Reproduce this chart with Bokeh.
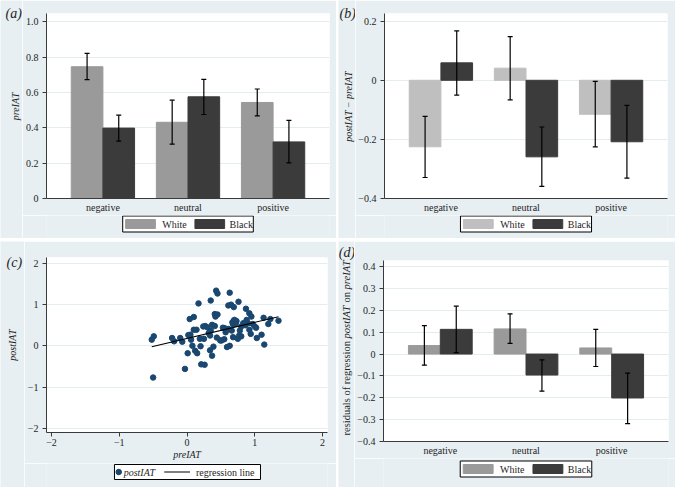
import math
from bokeh.plotting import figure
from bokeh.layouts import column, row
from bokeh.models import ColumnDataSource, FixedTicker, Range1d, Whisker, TeeHead, Label
from bokeh.embed import file_html
from bokeh.resources import INLINE

# ---------------- data ----------------
categories = ["negative", "neutral", "positive"]
cat_pos = [1, 2, 3]
series_names = ["White", "Black"]

a_white = [0.745, 0.431, 0.543]
a_white_lo = [0.672, 0.307, 0.467]
a_white_hi = [0.821, 0.556, 0.619]
a_black = [0.398, 0.575, 0.320]
a_black_lo = [0.324, 0.475, 0.201]
a_black_hi = [0.471, 0.674, 0.442]

b_white = [-0.225, 0.041, -0.115]
b_white_lo = [-0.329, -0.066, -0.225]
b_white_hi = [-0.122, 0.148, -0.004]
b_black = [0.059, -0.259, -0.208]
b_black_lo = [-0.050, -0.359, -0.331]
b_black_hi = [0.167, -0.158, -0.085]

d_white = [0.039, 0.115, 0.028]
d_white_lo = [-0.051, 0.049, -0.057]
d_white_hi = [0.130, 0.184, 0.113]
d_black = [0.113, -0.096, -0.201]
d_black_lo = [0.007, -0.170, -0.318]
d_black_hi = [0.219, -0.027, -0.087]

pre_iat = [-0.52, -0.49, -0.50, -0.22, -0.19, -0.10, -0.07, -0.03, 0.02, 0.04,
           0.01, 0.06, 0.08, 0.10, 0.10, 0.14, 0.12, 0.15, 0.17, 0.19,
           0.21, 0.26, 0.20, 0.24, 0.27, 0.25, 0.32, 0.34, 0.34, 0.35,
           0.35, 0.37, 0.39, 0.37, 0.41, 0.41, 0.43, 0.45, 0.45, 0.42,
           0.44, 0.49, 0.51, 0.53, 0.55, 0.58, 0.61, 0.59, 0.63, 0.63,
           0.61, 0.65, 0.66, 0.67, 0.69, 0.69, 0.70, 0.72, 0.70, 0.68,
           0.75, 0.76, 0.77, 0.78, 0.80, 0.83, 0.80, 0.87, 0.88, 0.92,
           0.95, 0.92, 0.94, 0.97, 1.00, 1.02, 1.03, 1.10, 1.13, 1.14,
           1.20, 1.23, 1.35, 0.71, 0.73, 0.68, 0.90, 0.86, 0.55, 0.57,
           0.30, 0.05]
post_iat = [0.15, 0.23, -0.77, 0.19, 0.11, 0.19, 0.10, -0.56, 0.26, 0.65,
            -0.18, 0.15, 0.00, 0.70, 0.39, 0.39, -0.12, -0.18, 1.03, 0.17,
            -0.45, -0.46, -0.01, 0.47, 0.48, 0.17, 0.31, 0.25, -0.11, 1.10,
            0.37, 0.51, -0.02, -0.24, 0.77, 0.48, 1.34, 1.27, 0.76, 0.71,
            0.20, 0.13, 0.13, 0.44, 0.16, 0.41, 0.41, -0.03, 1.29, 0.00,
            0.98, 1.00, 0.37, 0.57, 0.61, 0.94, 0.63, 0.55, 0.53, 0.21,
            0.17, 1.07, 0.25, 0.37, 0.47, 0.55, 0.23, 0.90, 0.63, 0.79,
            0.71, 0.39, 0.29, 0.53, 0.47, 0.44, 0.19, 0.27, 0.68, 0.03,
            0.53, 0.65, 0.61, 0.58, 0.60, 0.52, 0.55, 0.50, 0.43, 0.33,
            0.45, 0.27]
reg_intercept = 0.18
reg_slope = 0.39

a_ticks = [0, 0.2, 0.4, 0.6, 0.8, 1.0]
a_labels = ["0", "0.2", "0.4", "0.6", "0.8", "1.0"]
b_ticks = [-0.4, -0.2, 0, 0.2]
b_labels = ["\u22120.4", "\u22120.2", "0", "0.2"]
c_ticks = [-2, -1, 0, 1, 2]
c_labels = ["\u22122", "\u22121", "0", "1", "2"]
d_ticks = [-0.4, -0.3, -0.2, -0.1, 0, 0.1, 0.2, 0.3, 0.4]
d_labels = ["\u22120.4", "\u22120.3", "\u22120.2", "\u22120.1", "0", "0.1", "0.2", "0.3", "0.4"]

# ---------------- style ----------------
SERIF = "Liberation Serif"
PANEL = "#e7eff2"
GRID = "#e3ecef"
AXIS = "#3a3a3a"
TXT = "#1e1e1e"
GRAY = "#9a9a9a"
LIGHT = "#bfbfbf"
DARK = "#3b3b3b"
NAVY = "#1a476f"
OFF = 0.186
BW = 0.372


def strip_fig(w, h):
    """Borderless side strip; data units are pixels from its top-left corner."""
    return figure(width=w, height=h, output_backend="svg", toolbar_location=None,
                  x_range=Range1d(0, w), y_range=Range1d(h, 0), title=None,
                  x_axis_type=None, y_axis_type=None, min_border=0,
                  background_fill_color=PANEL, border_fill_color=PANEL, outline_line_color=None)


def footer_fig(w, h, lb, rb):
    """Strip below a plot; its frame lines up with the plot frame, data x = px from frame left,
    data y = px from the bottom."""
    fw = w - lb - rb
    return figure(width=w, height=h, output_backend="svg", toolbar_location=None,
                  x_range=Range1d(0, fw), y_range=Range1d(0, h), title=None,
                  x_axis_type=None, y_axis_type=None,
                  min_border_left=lb, min_border_right=rb, min_border_top=0, min_border_bottom=0,
                  background_fill_color=PANEL, border_fill_color=PANEL, outline_line_color=None)


def main_fig(w, h, lb, rb, tb, bb, xr, yr):
    p = figure(width=w, height=h, output_backend="svg", toolbar_location=None,
               x_range=Range1d(*xr), y_range=Range1d(*yr), title=None,
               min_border_left=lb, min_border_right=rb, min_border_top=tb, min_border_bottom=bb,
               background_fill_color="white", border_fill_color=PANEL, outline_line_color=None)
    for ax in (p.xaxis[0], p.yaxis[0]):
        ax.axis_line_color = AXIS
        ax.axis_line_width = 1
        ax.major_tick_line_color = AXIS
        ax.minor_tick_line_color = None
        ax.major_tick_out = 4
        ax.major_tick_in = 0
        ax.major_label_text_font = SERIF
        ax.major_label_text_font_size = "10px"
        ax.major_label_text_color = TXT
        ax.major_label_standoff = 4
        ax.axis_label_text_font = SERIF
        ax.axis_label_text_font_size = "10px"
        ax.axis_label_text_font_style = "italic"
        ax.axis_label_text_color = TXT
        ax.axis_label_standoff = 0
    p.xgrid.visible = False
    p.ygrid.grid_line_color = GRID
    p.ygrid.grid_line_width = 1
    return p


def text(fig, x, y, s, size="10px", style="normal", align="left", angle=0.0):
    fig.add_layout(Label(x=x, y=y, text=s, angle=angle, angle_units="rad",
                         text_font=SERIF, text_font_size=size, text_font_style=style,
                         text_color=TXT, text_align=align, text_baseline="middle"))


def bar_legend(f, fw, h, top, wcol):
    cx = fw / 2
    yt = h - top
    yc = yt - 8
    f.quad(left=[cx - 66], right=[cx + 66], top=[yt], bottom=[yt - 16],
           fill_color="white", line_color="black", line_width=1)
    for (x0, x1, tx), col, name in zip(((-63, -33, -26), (7, 37, 42)), (wcol, DARK), series_names):
        f.quad(left=[cx + x0], right=[cx + x1], top=[yc + 4.5], bottom=[yc - 4.5],
               fill_color=col, line_color=col)
        text(f, cx + tx, yc, name)


def bar_panel(W, H, sw, lb, rb, tb, fh, bb, yr, ticks, labels,
              wv, wlo, whi, bv, blo, bhi, wcol, leg_top):
    mw = W - sw
    mh = tb + fh + bb
    p = main_fig(mw, mh, lb, rb, tb, bb, (0.337, 3.663), yr)
    xw = [c - OFF for c in cat_pos]
    xb = [c + OFF for c in cat_pos]
    p.vbar(x=xw, top=wv, bottom=0, width=BW, fill_color=wcol, line_color=wcol)
    p.vbar(x=xb, top=bv, bottom=0, width=BW, fill_color=DARK, line_color=DARK)
    for xs, lo, hi in ((xw, wlo, whi), (xb, blo, bhi)):
        src = ColumnDataSource(dict(x=xs, lo=lo, hi=hi))
        p.add_layout(Whisker(source=src, base="x", lower="lo", upper="hi", dimension="height",
                             line_color="black", line_width=1.2, level="annotation",
                             upper_head=TeeHead(size=5, line_color="black", line_width=1.2),
                             lower_head=TeeHead(size=5, line_color="black", line_width=1.2)))
    p.xaxis.ticker = FixedTicker(ticks=cat_pos)
    p.xaxis.major_label_overrides = {c: n for c, n in zip(cat_pos, categories)}
    p.xaxis.major_tick_out = 0
    p.xaxis.major_label_standoff = 3
    p.yaxis.ticker = FixedTicker(ticks=ticks)
    p.ygrid.ticker = FixedTicker(ticks=ticks)
    p.yaxis.major_label_overrides = {t: s for t, s in zip(ticks, labels)}

    foot_h = H - mh
    ft = footer_fig(mw, foot_h, lb, rb)
    bar_legend(ft, mw - lb - rb, foot_h, leg_top, wcol)
    strip = strip_fig(sw, H)
    return strip, column(p, ft, spacing=0)


# ---------------- panel (a) ----------------
sa, ca = bar_panel(336, 238, 22, 21, 7, 13, 186, 16, (0, 1.046), a_ticks, a_labels,
                   a_white, a_white_lo, a_white_hi, a_black, a_black_lo, a_black_hi,
                   GRAY, 0.5)
text(sa, 5, 12.7, "(a)", size="14px", style="italic")
text(sa, 15, 13 + 186 / 2, "preIAT", style="italic", align="center", angle=math.pi / 2)
panel_a = row(sa, ca, spacing=0)

# ---------------- panel (b) ----------------
sb, cb = bar_panel(337, 238, 17, 27, 8, 13, 186, 16, (-0.4, 0.226), b_ticks, b_labels,
                   b_white, b_white_lo, b_white_hi, b_black, b_black_lo, b_black_hi,
                   LIGHT, 0.5)
text(sb, 1, 12.7, "(b)", size="14px", style="italic")
text(sb, 10, 13 + 186 / 2, "postIAT \u2212 preIAT", style="italic", align="center",
     angle=math.pi / 2)
panel_b = row(sb, cb, spacing=0)

# ---------------- panel (c) ----------------
Wc, Hc, swc, lbc, rbc, tbc, fhc, bbc = 336, 246, 24, 19, 9, 16, 175, 31
mwc = Wc - swc
mhc = tbc + fhc + bbc
pc = main_fig(mwc, mhc, lbc, rbc, tbc, bbc, (-2.073, 2.073), (-2.105, 2.145))
pc.scatter(pre_iat, post_iat, size=5.5, marker="circle", fill_color=NAVY, line_color=NAVY)
reg_x = [min(pre_iat), max(pre_iat)]
reg_y = [reg_intercept + reg_slope * v for v in reg_x]
pc.line(reg_x, reg_y, line_color="black", line_width=1.1)
pc.xaxis.ticker = FixedTicker(ticks=c_ticks)
pc.yaxis.ticker = FixedTicker(ticks=c_ticks)
pc.ygrid.ticker = FixedTicker(ticks=c_ticks)
pc.xaxis.major_label_overrides = {t: s for t, s in zip(c_ticks, c_labels)}
pc.yaxis.major_label_overrides = {t: s for t, s in zip(c_ticks, c_labels)}
pc.xaxis.major_label_standoff = 2
pc.xaxis.axis_label = "preIAT"

foot_c = Hc - mhc
fc = footer_fig(mwc, foot_c, lbc, rbc)
cxc = (mwc - lbc - rbc) / 2
yt = foot_c - 1
yc = yt - 7.5
fc.quad(left=[cxc - 73.3], right=[cxc + 74.3], top=[yt], bottom=[yt - 15],
        fill_color="white", line_color="black", line_width=1)
fc.scatter(x=[cxc - 69], y=[yc], size=5.5, marker="circle", fill_color=NAVY, line_color=NAVY)
text(fc, cxc - 64, yc, "postIAT", style="italic")
fc.line(x=[cxc - 23, cxc + 3], y=[yc, yc], line_color="black", line_width=1.1)
text(fc, cxc + 9, yc, "regression line")
sc_ = strip_fig(swc, Hc)
text(sc_, 6, 21, "(c)", size="14px", style="italic")
text(sc_, 12, tbc + fhc / 2, "postIAT", style="italic", align="center", angle=math.pi / 2)
panel_c = row(sc_, column(pc, fc, spacing=0), spacing=0)

# ---------------- panel (d) ----------------
sd, cd = bar_panel(337, 246, 16, 28, 7, 19, 183, 15, (-0.4, 0.428), d_ticks, d_labels,
                   d_white, d_white_lo, d_white_hi, d_black, d_black_lo, d_black_hi,
                   GRAY, 2.5)
text(sd, 0.3, 10.7, "(d)", size="14px", style="italic")
ylab_parts = [("residuals of regression", "normal", 0.0),
              ("postIAT", "italic", 97.1),
              ("on", "normal", 133.0),
              ("preIAT", "italic", 146.1)]
lab_y0 = 194
for s, style, off in ylab_parts:
    text(sd, 8, lab_y0 - off, s, size="10.5px", style=style, align="left", angle=math.pi / 2)
panel_d = row(sd, cd, spacing=0)

layout = column(row(panel_a, panel_b, spacing=2), row(panel_c, panel_d, spacing=2), spacing=3)

open("out.html", "w").write(file_html(layout, INLINE))
